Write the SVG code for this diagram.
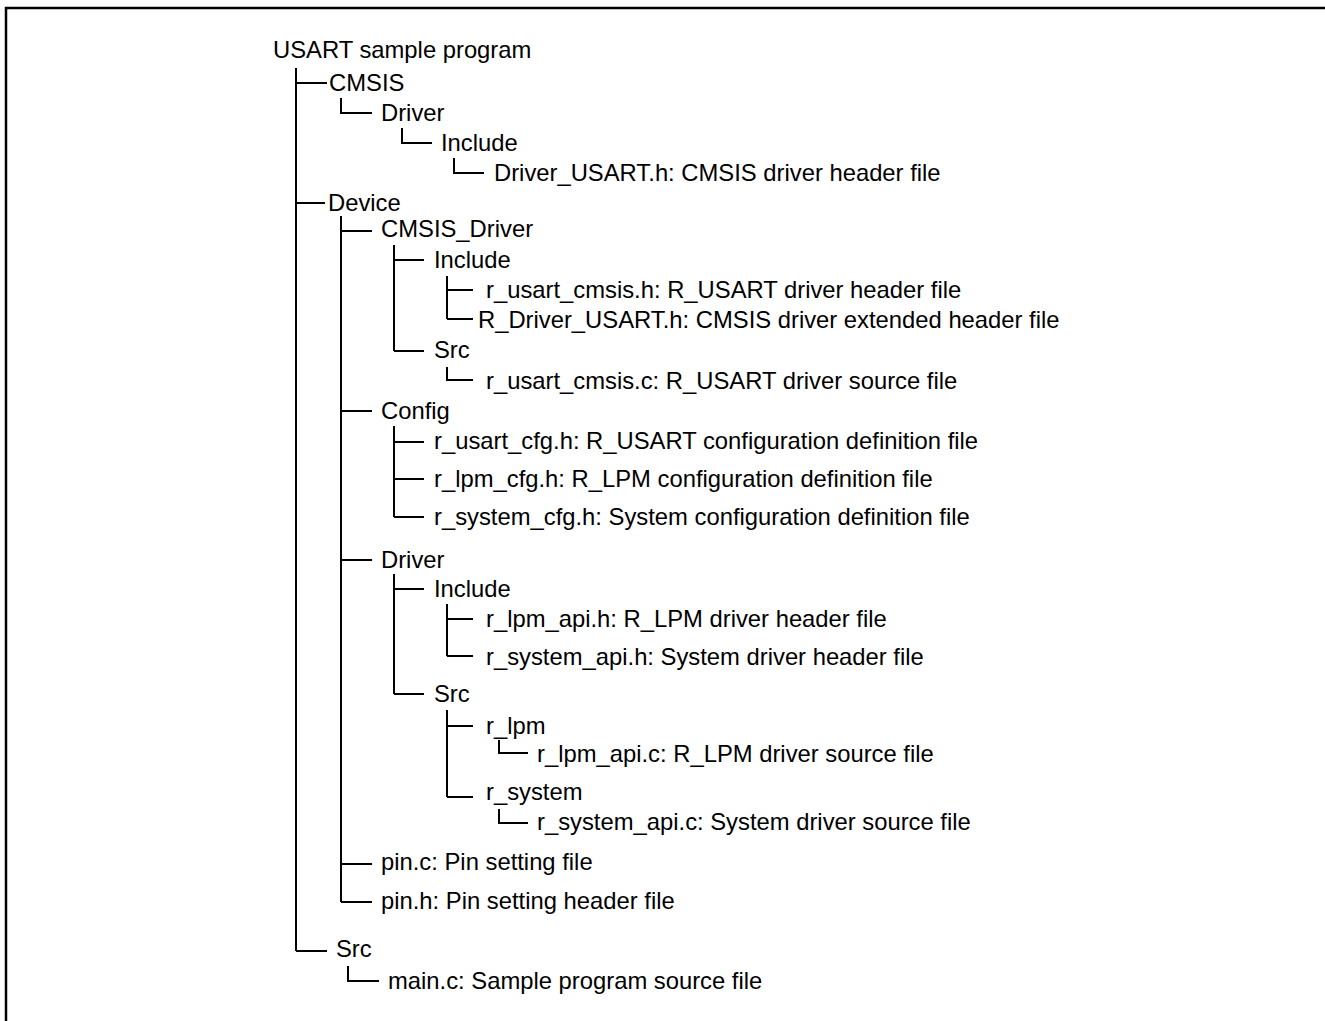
<svg xmlns="http://www.w3.org/2000/svg" width="1325" height="1021" viewBox="0 0 1325 1021">
<style>
text{font-family:"Liberation Sans",Arial,sans-serif;font-size:23.8px;fill:#000}
.ln{fill:none;stroke:#000;stroke-width:2}
</style>
<rect x="0" y="0" width="1325" height="1021" fill="#fff"/>
<rect x="6" y="8" width="1330" height="1030" fill="none" stroke="#000" stroke-width="2.5"/>
<g id="connectors" class="ln">
<path d="M296 68V951M296 83H327M296 203H325M296 951H327"/>
<path d="M341 98V113H372"/>
<path d="M402 128V143H432"/>
<path d="M454 158V173H484"/>
<path d="M341 216V902M341 231H372M341 411H372M341 560H372M341 864H372M341 902H372"/>
<path d="M394 245V351M394 260H424M394 351H424"/>
<path d="M447 276V319M447 290H473M447 319H473"/>
<path d="M447 367V380H473"/>
<path d="M394 426V517M394 442H424M394 479H424M394 517H424"/>
<path d="M394 574V694M394 589H424M394 694H424"/>
<path d="M447 604V656M447 619H473M447 656H473"/>
<path d="M447 710V797M447 726H473M447 797H473"/>
<path d="M499 740V753H528"/>
<path d="M499 809V823H528"/>
<path d="M348 966V981H379"/>
</g>
<g id="root"><text x="273" y="58">USART sample program</text></g>
<g id="cmsis"><text x="329" y="91">CMSIS</text></g>
<g id="cmsis-driver"><text x="381" y="121">Driver</text></g>
<g id="cmsis-driver-include"><text x="441" y="151">Include</text></g>
<g id="driver-usart-h"><text x="494" y="181">Driver_USART.h: CMSIS driver header file</text></g>
<g id="device"><text x="328" y="211">Device</text></g>
<g id="cmsis_driver"><text x="381" y="237">CMSIS_Driver</text></g>
<g id="cd-include"><text x="434" y="268">Include</text></g>
<g id="r-usart-cmsis-h"><text x="486" y="298">r_usart_cmsis.h: R_USART driver header file</text></g>
<g id="r-driver-usart-h"><text x="478" y="328">R_Driver_USART.h: CMSIS driver extended header file</text></g>
<g id="cd-src"><text x="434" y="358">Src</text></g>
<g id="r-usart-cmsis-c"><text x="486" y="389">r_usart_cmsis.c: R_USART driver source file</text></g>
<g id="config"><text x="381" y="419">Config</text></g>
<g id="r-usart-cfg"><text x="434" y="449">r_usart_cfg.h: R_USART configuration definition file</text></g>
<g id="r-lpm-cfg"><text x="434" y="487">r_lpm_cfg.h: R_LPM configuration definition file</text></g>
<g id="r-system-cfg"><text x="434" y="525">r_system_cfg.h: System configuration definition file</text></g>
<g id="dev-driver"><text x="381" y="568">Driver</text></g>
<g id="drv-include"><text x="434" y="597">Include</text></g>
<g id="r-lpm-api-h"><text x="486" y="627">r_lpm_api.h: R_LPM driver header file</text></g>
<g id="r-system-api-h"><text x="486" y="665">r_system_api.h: System driver header file</text></g>
<g id="drv-src"><text x="434" y="702">Src</text></g>
<g id="r-lpm"><text x="486" y="734">r_lpm</text></g>
<g id="r-lpm-api-c"><text x="537" y="762">r_lpm_api.c: R_LPM driver source file</text></g>
<g id="r-system"><text x="486" y="800">r_system</text></g>
<g id="r-system-api-c"><text x="537" y="830">r_system_api.c: System driver source file</text></g>
<g id="pin-c"><text x="381" y="870">pin.c: Pin setting file</text></g>
<g id="pin-h"><text x="381" y="909">pin.h: Pin setting header file</text></g>
<g id="src"><text x="336" y="957">Src</text></g>
<g id="main-c"><text x="388" y="989">main.c: Sample program source file</text></g>
</svg>
